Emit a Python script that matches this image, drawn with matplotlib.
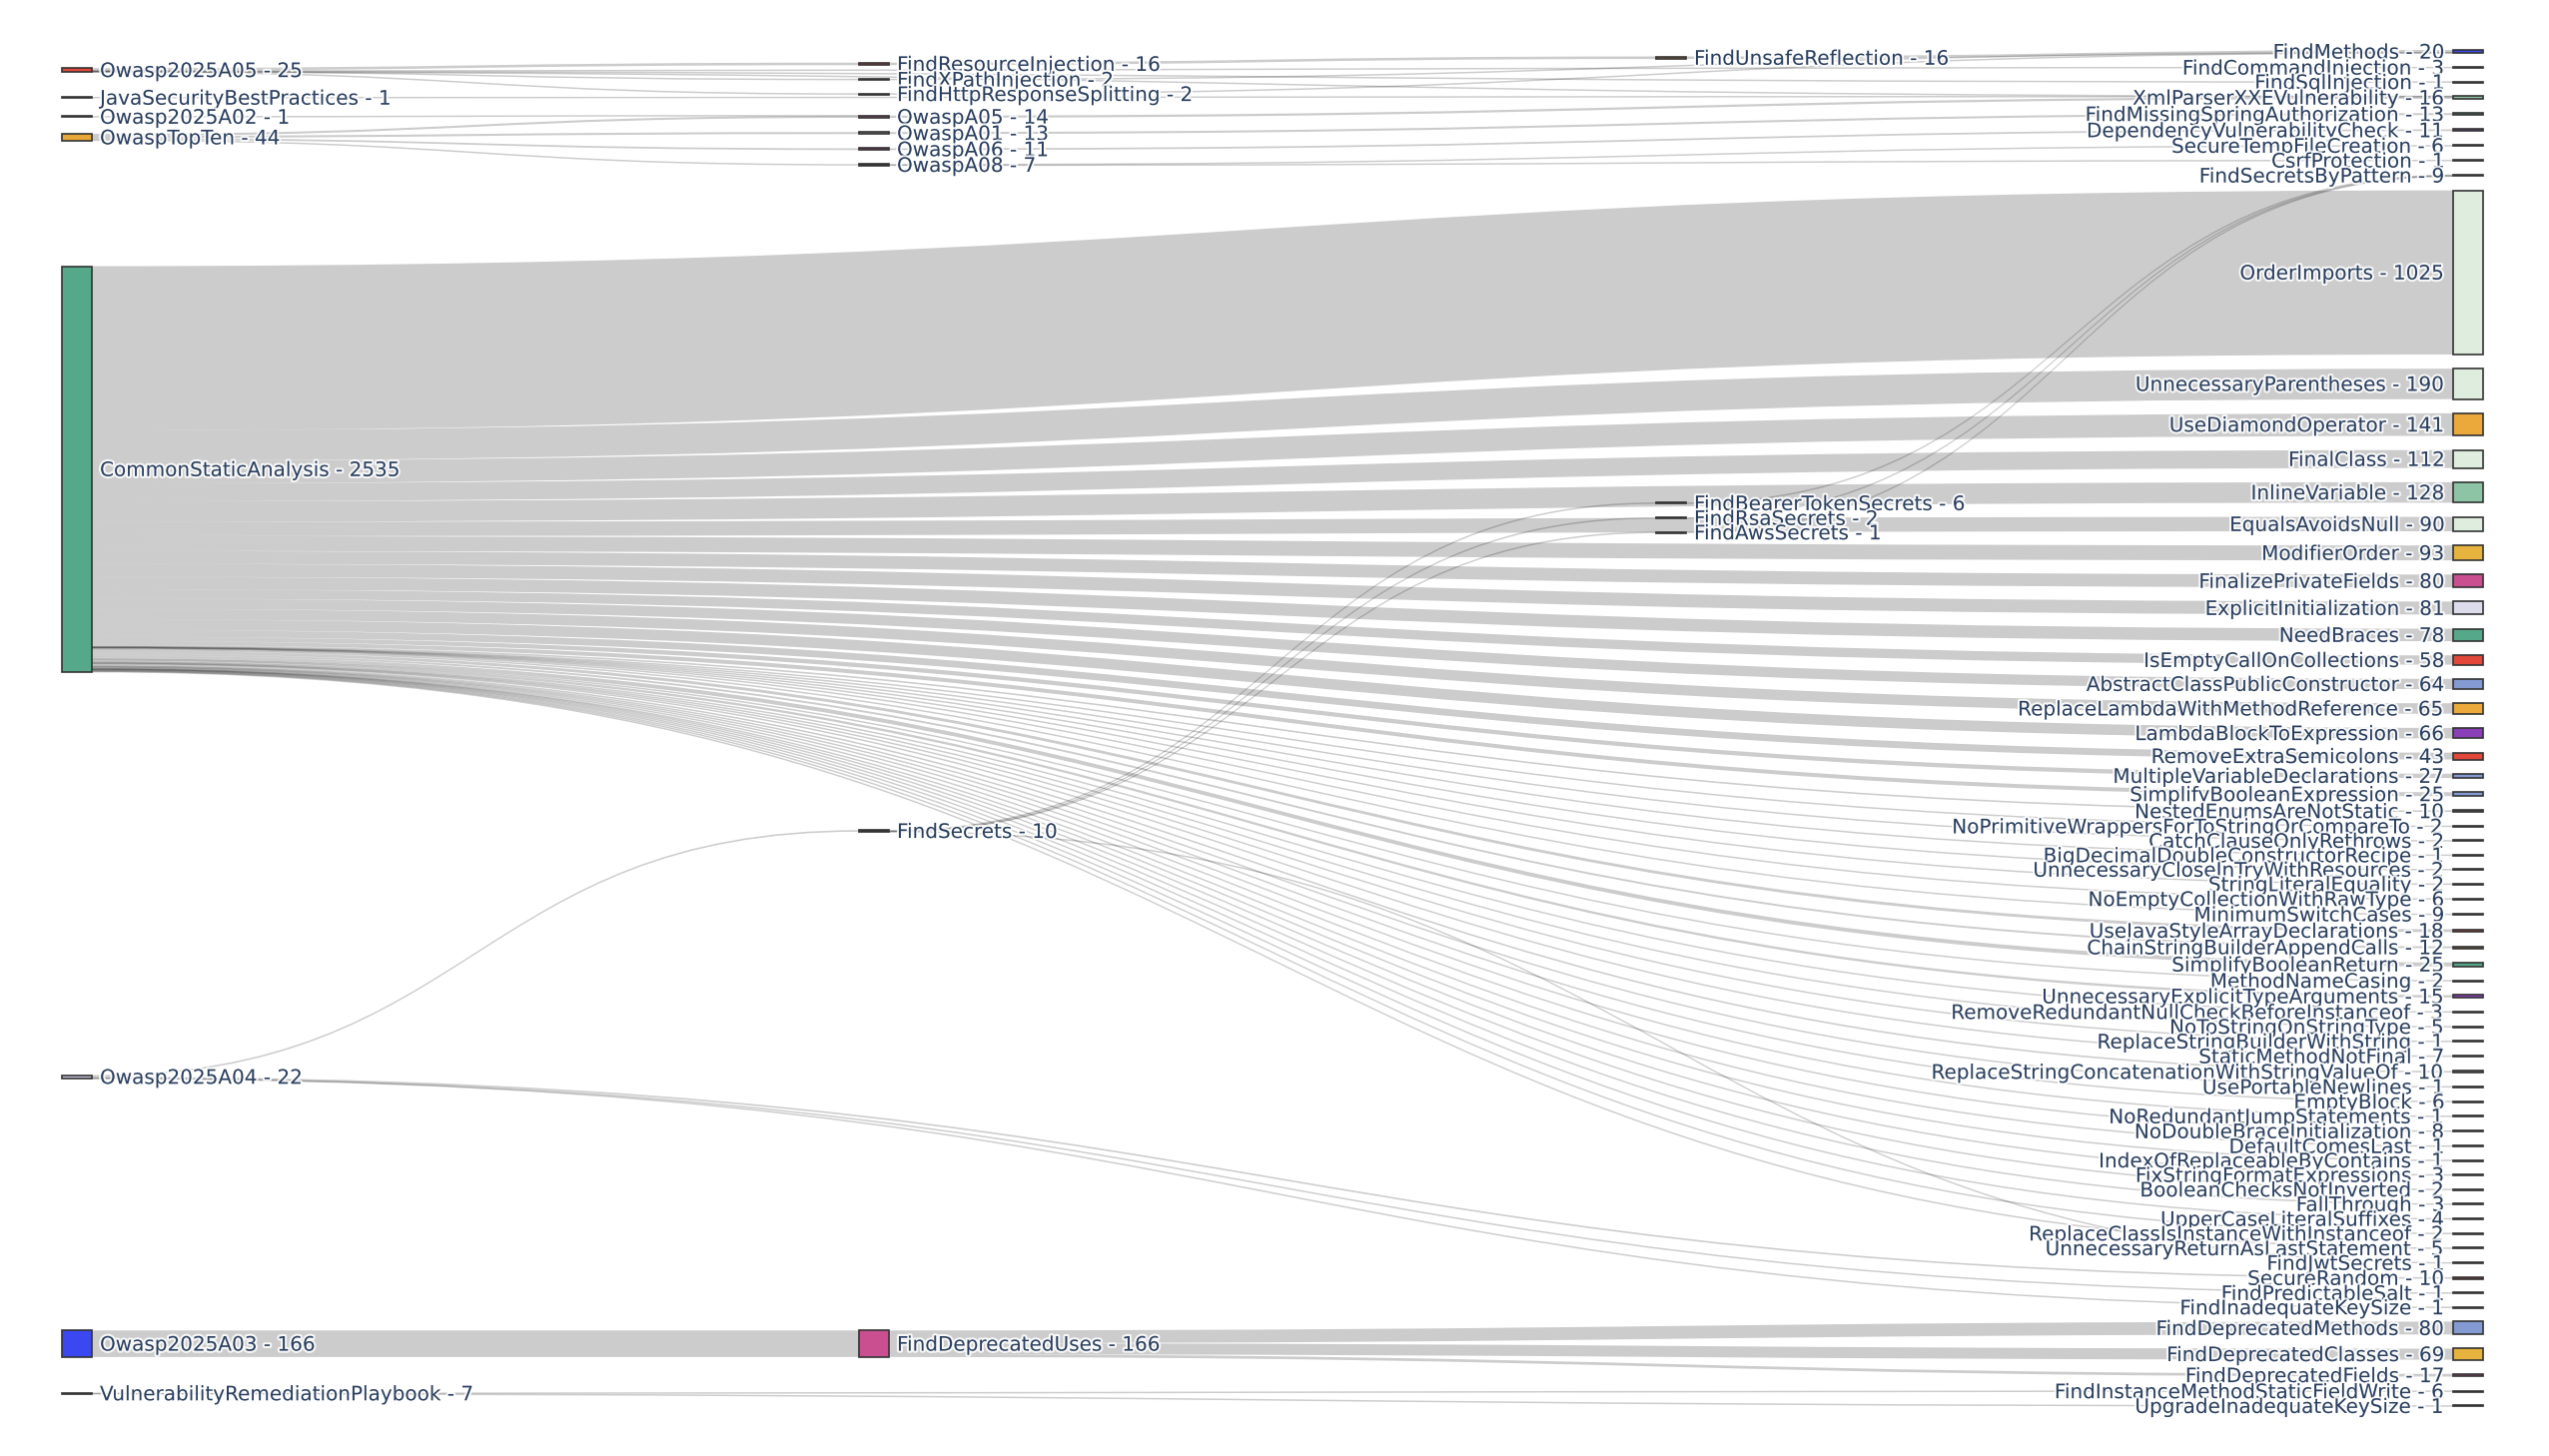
import numpy as np
import matplotlib.pyplot as plt
import matplotlib.patheffects as pe
from matplotlib.path import Path
from matplotlib.patches import PathPatch, Rectangle

# ---- data -------------------------------------------------------------
# nodes, listed column by column (top to bottom) with their colours
node_names = [
    "Owasp2025A05", "JavaSecurityBestPractices", "Owasp2025A02", "OwaspTopTen",
    "CommonStaticAnalysis", "Owasp2025A04", "Owasp2025A03",
    "VulnerabilityRemediationPlaybook",
    "FindResourceInjection", "FindXPathInjection", "FindHttpResponseSplitting",
    "OwaspA05", "OwaspA01", "OwaspA06", "OwaspA08", "FindSecrets",
    "FindDeprecatedUses",
    "FindUnsafeReflection", "FindBearerTokenSecrets", "FindRsaSecrets",
    "FindAwsSecrets",
    "FindMethods", "FindCommandInjection", "FindSqlInjection",
    "XmlParserXXEVulnerability", "FindMissingSpringAuthorization",
    "DependencyVulnerabilityCheck", "SecureTempFileCreation", "CsrfProtection",
    "FindSecretsByPattern", "OrderImports", "UnnecessaryParentheses",
    "UseDiamondOperator", "FinalClass", "InlineVariable", "EqualsAvoidsNull",
    "ModifierOrder", "FinalizePrivateFields", "ExplicitInitialization",
    "NeedBraces", "IsEmptyCallOnCollections", "AbstractClassPublicConstructor",
    "ReplaceLambdaWithMethodReference", "LambdaBlockToExpression",
    "RemoveExtraSemicolons", "MultipleVariableDeclarations",
    "SimplifyBooleanExpression", "NestedEnumsAreNotStatic",
    "NoPrimitiveWrappersForToStringOrCompareTo", "CatchClauseOnlyRethrows",
    "BigDecimalDoubleConstructorRecipe", "UnnecessaryCloseInTryWithResources",
    "StringLiteralEquality", "NoEmptyCollectionWithRawType",
    "MinimumSwitchCases", "UseJavaStyleArrayDeclarations",
    "ChainStringBuilderAppendCalls", "SimplifyBooleanReturn",
    "MethodNameCasing", "UnnecessaryExplicitTypeArguments",
    "RemoveRedundantNullCheckBeforeInstanceof", "NoToStringOnStringType",
    "ReplaceStringBuilderWithString", "StaticMethodNotFinal",
    "ReplaceStringConcatenationWithStringValueOf", "UsePortableNewlines",
    "EmptyBlock", "NoRedundantJumpStatements", "NoDoubleBraceInitialization",
    "DefaultComesLast", "IndexOfReplaceableByContains",
    "FixStringFormatExpressions", "BooleanChecksNotInverted", "FallThrough",
    "UpperCaseLiteralSuffixes", "ReplaceClassIsInstanceWithInstanceof",
    "UnnecessaryReturnAsLastStatement", "FindJwtSecrets", "SecureRandom",
    "FindPredictableSalt", "FindInadequateKeySize", "FindDeprecatedMethods",
    "FindDeprecatedClasses", "FindDeprecatedFields",
    "FindInstanceMethodStaticFieldWrite", "UpgradeInadequateKeySize",
]
node_colors = [
    "#e2473a", "#333333", "#333333", "#e8a838", "#55a889", "#c9c9e3",
    "#3b48f2", "#333333",
    "#e2473a", "#333333", "#333333", "#c2559a", "#a8a8b8", "#a2387f",
    "#333333", "#333333", "#c94f91",
    "#c68a2e", "#333333", "#333333", "#333333",
    "#3b48f2", "#333333", "#333333", "#93c5a9", "#4e9c80", "#7a3fa8",
    "#333333", "#333333", "#3d5a4c", "#dfeddf", "#dfeddf", "#eaa93a",
    "#dfeddf", "#8ec4a6", "#dfeddf", "#e6b43e", "#c94f91", "#dcdcec",
    "#55a889", "#e2473a", "#849ad3", "#eaa93a", "#8a3fb8", "#e2473a",
    "#849ad3", "#849ad3", "#666666", "#333333", "#333333", "#333333",
    "#333333", "#333333", "#333333", "#5a3f8a", "#e2473a", "#9a7a2e",
    "#55a889", "#333333", "#8a3fb8", "#333333", "#333333", "#333333",
    "#333333", "#8a8a8a", "#333333", "#333333", "#333333", "#333333",
    "#333333", "#333333", "#333333", "#333333", "#333333", "#333333",
    "#333333", "#333333", "#333333", "#b03a2e", "#333333", "#333333",
    "#849ad3", "#e6b43e", "#c94f91", "#333333", "#333333",
]

# rules fed by CommonStaticAnalysis and their counts
csa_rules = [
    "OrderImports", "UnnecessaryParentheses", "UseDiamondOperator",
    "FinalClass", "InlineVariable", "EqualsAvoidsNull", "ModifierOrder",
    "FinalizePrivateFields", "ExplicitInitialization", "NeedBraces",
    "IsEmptyCallOnCollections", "AbstractClassPublicConstructor",
    "ReplaceLambdaWithMethodReference", "LambdaBlockToExpression",
    "RemoveExtraSemicolons", "MultipleVariableDeclarations",
    "SimplifyBooleanExpression", "NestedEnumsAreNotStatic",
    "NoPrimitiveWrappersForToStringOrCompareTo", "CatchClauseOnlyRethrows",
    "BigDecimalDoubleConstructorRecipe", "UnnecessaryCloseInTryWithResources",
    "StringLiteralEquality", "NoEmptyCollectionWithRawType",
    "MinimumSwitchCases", "UseJavaStyleArrayDeclarations",
    "ChainStringBuilderAppendCalls", "SimplifyBooleanReturn",
    "MethodNameCasing", "UnnecessaryExplicitTypeArguments",
    "RemoveRedundantNullCheckBeforeInstanceof", "NoToStringOnStringType",
    "ReplaceStringBuilderWithString", "StaticMethodNotFinal",
    "ReplaceStringConcatenationWithStringValueOf", "UsePortableNewlines",
    "EmptyBlock", "NoRedundantJumpStatements", "NoDoubleBraceInitialization",
    "DefaultComesLast", "IndexOfReplaceableByContains",
    "FixStringFormatExpressions", "BooleanChecksNotInverted", "FallThrough",
    "UpperCaseLiteralSuffixes", "ReplaceClassIsInstanceWithInstanceof",
    "UnnecessaryReturnAsLastStatement",
]
csa_counts = [
    1025, 190, 141, 112, 128, 90, 93, 80, 81, 78, 58, 64, 65, 66, 43, 27, 25,
    10, 2, 2, 1, 2, 2, 6, 9, 18, 12, 25, 2, 15, 3, 5, 1, 7, 10, 1, 6, 1, 8,
    1, 1, 3, 2, 3, 4, 2, 5,
]

# all the other flows
link_source = [
    "Owasp2025A05", "Owasp2025A05", "Owasp2025A05", "Owasp2025A05",
    "Owasp2025A05", "Owasp2025A05", "JavaSecurityBestPractices",
    "Owasp2025A02", "OwaspTopTen", "OwaspTopTen", "OwaspTopTen", "OwaspTopTen",
    "OwaspA05", "OwaspA01", "OwaspA06", "OwaspA08", "OwaspA08",
    "FindResourceInjection", "FindXPathInjection", "FindHttpResponseSplitting",
    "FindUnsafeReflection",
    "Owasp2025A04", "Owasp2025A04", "Owasp2025A04", "Owasp2025A04",
    "FindSecrets", "FindSecrets", "FindSecrets", "FindSecrets",
    "FindBearerTokenSecrets", "FindRsaSecrets", "FindAwsSecrets",
    "Owasp2025A03", "FindDeprecatedUses", "FindDeprecatedUses",
    "FindDeprecatedUses", "VulnerabilityRemediationPlaybook",
    "VulnerabilityRemediationPlaybook",
]
link_target = [
    "FindResourceInjection", "FindXPathInjection", "FindHttpResponseSplitting",
    "FindCommandInjection", "FindSqlInjection", "XmlParserXXEVulnerability",
    "XmlParserXXEVulnerability",
    "OwaspA05", "OwaspA05", "OwaspA01", "OwaspA06", "OwaspA08",
    "XmlParserXXEVulnerability", "FindMissingSpringAuthorization",
    "DependencyVulnerabilityCheck", "SecureTempFileCreation", "CsrfProtection",
    "FindUnsafeReflection", "FindMethods", "FindMethods", "FindMethods",
    "FindSecrets", "SecureRandom", "FindPredictableSalt",
    "FindInadequateKeySize",
    "FindBearerTokenSecrets", "FindRsaSecrets", "FindAwsSecrets",
    "FindJwtSecrets",
    "FindSecretsByPattern", "FindSecretsByPattern", "FindSecretsByPattern",
    "FindDeprecatedUses", "FindDeprecatedMethods", "FindDeprecatedClasses",
    "FindDeprecatedFields", "FindInstanceMethodStaticFieldWrite",
    "UpgradeInadequateKeySize",
]
link_value = [
    16, 2, 2, 3, 1, 1, 1,
    1, 13, 13, 11, 7,
    14, 13, 11, 6, 1,
    16, 2, 2, 16,
    10, 10, 1, 1,
    6, 2, 1, 1,
    6, 2, 1,
    166, 80, 69, 17, 6, 1,
]

# ---- layout settings ----------------------------------------------------
W, H = 2552, 1458
X0, X1 = 62, 2486
Y0, Y1 = 50, 1408
NODE_W = 30
PAD = 14.2
ITERATIONS = 300
LABEL_GAP = 8
FONT_PT = 14.4
TEXT_COLOR = "#2a3f5f"
LINK_COLOR = (0, 0, 0, 0.2)
MIN_LINK_PX = 1.5

# ---- sankey layout ------------------------------------------------------
src_all = ["CommonStaticAnalysis"] * len(csa_rules) + link_source
tgt_all = csa_rules + link_target
val = np.array(csa_counts + link_value, dtype=float)

idx = {n: i for i, n in enumerate(node_names)}
N = len(node_names)
src = [idx[s] for s in src_all]
tgt = [idx[t] for t in tgt_all]
out_links = [[] for _ in range(N)]
in_links = [[] for _ in range(N)]
for k in range(len(val)):
    out_links[src[k]].append(k)
    in_links[tgt[k]].append(k)

value = np.array([max(sum(val[k] for k in out_links[n]),
                      sum(val[k] for k in in_links[n])) for n in range(N)])

# column of each node: longest path from a source, sinks in the last column
depth = [0] * N
current = list(range(N))
ncol = 0
while current:
    nxt = []
    for n in current:
        depth[n] = ncol
        for k in out_links[n]:
            if tgt[k] not in nxt:
                nxt.append(tgt[k])
    current = nxt
    ncol += 1
layer = np.array([depth[n] if out_links[n] else ncol - 1 for n in range(N)])
kx = (X1 - X0 - NODE_W) / (ncol - 1)
nx0 = X0 + layer * kx

# node order inside a column follows node_names
columns = [[n for n in range(N) if layer[n] == c] for c in range(ncol)]
ky = min((Y1 - Y0 - (len(c) - 1) * PAD) / sum(value[n] for n in c)
         for c in columns)
hgt = value * ky
width = val * ky
yc = np.zeros(N)


def resolve_collisions():
    for c in columns:
        y = Y0
        for n in c:
            top = max(yc[n] - hgt[n] / 2, y)
            yc[n] = top + hgt[n] / 2
            y = top + hgt[n] + PAD
        if y - PAD > Y1:
            y = Y1
            for n in reversed(c):
                bot = min(yc[n] + hgt[n] / 2, y)
                yc[n] = bot - hgt[n] / 2
                y = bot - hgt[n] - PAD


resolve_collisions()
# relax every node towards the value weighted centre of its neighbours
for _ in range(ITERATIONS):
    goal = yc.copy()
    for n in range(N):
        ks = out_links[n] + in_links[n]
        other = [tgt[k] if src[k] == n else src[k] for k in ks]
        goal[n] = np.average(yc[other], weights=val[ks])
    yc += 0.5 * (goal - yc)
    resolve_collisions()

y0 = yc - hgt / 2

# stacking of links on their nodes
ly0 = np.zeros(len(val))
ly1 = np.zeros(len(val))
for n in range(N):
    out_links[n].sort(key=lambda k: y0[tgt[k]])
    in_links[n].sort(key=lambda k: y0[src[k]])
    ys = y0[n]
    for k in out_links[n]:
        ly0[k] = ys + width[k] / 2
        ys += width[k]
    ys = y0[n]
    for k in in_links[n]:
        ly1[k] = ys + width[k] / 2
        ys += width[k]

# ---- drawing ------------------------------------------------------------
fig = plt.figure(figsize=(W / 100, H / 100), dpi=100)
ax = fig.add_axes([0, 0, 1, 1])
ax.set_xlim(0, W)
ax.set_ylim(H, 0)
ax.axis("off")

for k in range(len(val)):
    xs = nx0[src[k]] + NODE_W
    xt = nx0[tgt[k]]
    xm = (xs + xt) / 2
    hw = max(width[k], MIN_LINK_PX) / 2
    verts = [(xs, ly0[k] - hw), (xm, ly0[k] - hw), (xm, ly1[k] - hw),
             (xt, ly1[k] - hw), (xt, ly1[k] + hw), (xm, ly1[k] + hw),
             (xm, ly0[k] + hw), (xs, ly0[k] + hw), (xs, ly0[k] - hw)]
    codes = [Path.MOVETO, Path.CURVE4, Path.CURVE4, Path.CURVE4, Path.LINETO,
             Path.CURVE4, Path.CURVE4, Path.CURVE4, Path.CLOSEPOLY]
    ax.add_patch(PathPatch(Path(verts, codes), facecolor=LINK_COLOR,
                           edgecolor="none", zorder=1))

halo = [pe.withStroke(linewidth=3, foreground=(1, 1, 1, 0.85))]
for n in range(N):
    h = max(hgt[n], 1.0)
    ax.add_patch(Rectangle((nx0[n], yc[n] - h / 2), NODE_W, h,
                           facecolor=node_colors[n], edgecolor="#333333",
                           linewidth=1.2, zorder=3))
    label = f"{node_names[n]} - {int(value[n])}"
    ybase = yc[n] + 0.35 * FONT_PT / 0.72
    if layer[n] == ncol - 1:
        ax.text(nx0[n] - LABEL_GAP, ybase, label, ha="right", va="baseline",
                fontsize=FONT_PT, color=TEXT_COLOR, path_effects=halo, zorder=4)
    else:
        ax.text(nx0[n] + NODE_W + LABEL_GAP, ybase, label, ha="left",
                va="baseline", fontsize=FONT_PT, color=TEXT_COLOR,
                path_effects=halo, zorder=4)

fig.savefig("out.png", dpi=100)
